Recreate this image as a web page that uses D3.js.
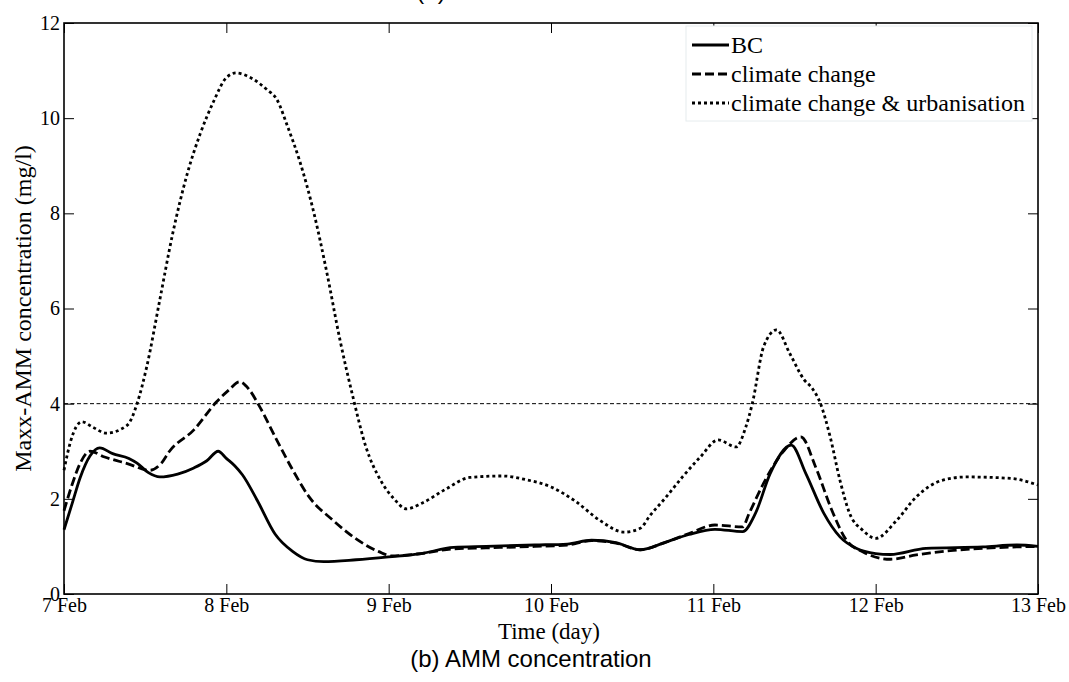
<!DOCTYPE html>
<html>
<head>
<meta charset="utf-8">
<script src="https://cdn.jsdelivr.net/npm/d3@7"></script>
<style>
  html, body { margin: 0; padding: 0; background: #fff; }
  svg { display: block; }
</style>
</head>
<body>
<svg id="chart" width="1069" height="682"></svg>
<script>
// ---- Data (x = days after 7 Feb) ----
const dayTickLabels = ["7 Feb", "8 Feb", "9 Feb", "10 Feb", "11 Feb", "12 Feb", "13 Feb"];
const yTickValues = [0, 2, 4, 6, 8, 10, 12];
const threshold = 4;

const bcDays = [0, 0.05, 0.1, 0.16, 0.22, 0.3, 0.4, 0.45, 0.52, 0.59, 0.7, 0.8, 0.88, 0.95, 1.0, 1.05, 1.1, 1.19, 1.3, 1.41, 1.5, 1.6, 1.8, 2.0, 2.2, 2.4, 2.6, 2.9, 3.1, 3.25, 3.4, 3.55, 3.7, 3.85, 4.01, 4.18, 4.26, 4.35, 4.48, 4.57, 4.68, 4.78, 4.88, 5.0, 5.09, 5.31, 5.66, 5.87, 6.0];
const bcVals = [1.35, 1.9, 2.45, 2.9, 3.07, 2.95, 2.85, 2.75, 2.55, 2.46, 2.52, 2.65, 2.8, 3.0, 2.85, 2.7, 2.5, 1.97, 1.26, 0.89, 0.72, 0.68, 0.72, 0.78, 0.85, 0.98, 1.0, 1.03, 1.05, 1.13, 1.08, 0.93, 1.08, 1.25, 1.36, 1.31, 1.7, 2.53, 3.13, 2.53, 1.7, 1.2, 0.96, 0.85, 0.83, 0.96, 0.99, 1.03, 1.0];

const ccDays = [0, 0.05, 0.1, 0.16, 0.25, 0.39, 0.53, 0.6, 0.65, 0.8, 0.94, 1.02, 1.08, 1.14, 1.2, 1.31, 1.41, 1.51, 1.66, 1.79, 1.94, 2.02, 2.2, 2.4, 2.6, 2.9, 3.1, 3.25, 3.4, 3.55, 3.7, 3.85, 4.01, 4.18, 4.22, 4.31, 4.43, 4.54, 4.63, 4.73, 4.82, 4.92, 5.09, 5.25, 5.46, 5.87, 6.0];
const ccVals = [1.75, 2.3, 2.75, 3.0, 2.88, 2.74, 2.6, 2.75, 3.0, 3.45, 4.04, 4.3, 4.46, 4.3, 3.97, 3.24, 2.6, 2.04, 1.54, 1.18, 0.89, 0.8, 0.85, 0.95, 0.97, 1.0, 1.03, 1.12, 1.07, 0.93, 1.08, 1.27, 1.45, 1.41, 1.69, 2.33, 2.99, 3.3, 2.67, 1.76, 1.13, 0.89, 0.73, 0.82, 0.91, 0.99, 1.0];

const ccuDays = [0, 0.04, 0.11, 0.18, 0.26, 0.39, 0.45, 0.51, 0.59, 0.67, 0.76, 0.84, 0.92, 1.0, 1.06, 1.15, 1.25, 1.31, 1.38, 1.45, 1.54, 1.62, 1.7, 1.78, 1.86, 1.95, 2.03, 2.11, 2.2, 2.35, 2.5, 2.7, 2.85, 3.0, 3.15, 3.3, 3.45, 3.55, 3.61, 3.7, 3.81, 3.92, 4.03, 4.14, 4.2, 4.24, 4.31, 4.39, 4.47, 4.56, 4.61, 4.66, 4.72, 4.78, 4.84, 4.92, 5.0, 5.13, 5.25, 5.41, 5.56, 5.83, 6.0];
const ccuVals = [2.6, 3.2, 3.62, 3.5, 3.38, 3.55, 4.0, 4.78, 6.18, 7.58, 8.84, 9.68, 10.34, 10.85, 10.95, 10.85, 10.6, 10.4, 9.8, 9.12, 8.0, 6.74, 5.34, 4.14, 3.09, 2.39, 2.01, 1.79, 1.9, 2.2, 2.45, 2.48, 2.4, 2.25, 1.95, 1.55, 1.3, 1.38, 1.65, 2.0, 2.46, 2.88, 3.24, 3.09, 3.51, 4.0, 5.2, 5.55, 5.06, 4.5, 4.32, 4.0, 3.3, 2.39, 1.69, 1.34, 1.17, 1.55, 2.04, 2.39, 2.46, 2.43, 2.29];

const seriesNames = ["BC", "climate change", "climate change & urbanisation"];

// ---- Layout ----
const svg = d3.select("#chart");
const pL = 64, pR = 1038, pT = 23, pB = 594;
const serif = "'Liberation Serif', 'Times New Roman', serif";

const x = d3.scaleLinear().domain([0, 6]).range([pL, pR]);
const y = d3.scaleLinear().domain([0, 12]).range([pB, pT]);

// Threshold line
svg.append("line")
  .attr("x1", x(0)).attr("x2", x(6))
  .attr("y1", y(threshold)).attr("y2", y(threshold))
  .attr("stroke", "#000").attr("stroke-width", 1)
  .attr("stroke-dasharray", "4,2.5");

// Series
const line = d3.line().x(d => x(d[0])).y(d => y(d[1])).curve(d3.curveMonotoneX);
const series = [
  { name: seriesNames[0], pts: d3.zip(bcDays, bcVals), dash: null, w: 2.8 },
  { name: seriesNames[1], pts: d3.zip(ccDays, ccVals), dash: "9,4", w: 2.8 },
  { name: seriesNames[2], pts: d3.zip(ccuDays, ccuVals), dash: "3,3", w: 2.8 }
];
series.forEach(s => {
  svg.append("path")
    .datum(s.pts)
    .attr("d", line)
    .attr("fill", "none")
    .attr("stroke", "#000")
    .attr("stroke-width", s.w)
    .attr("stroke-dasharray", s.dash);
});

// Axes
function styleAxis(g) {
  g.select(".domain").remove();
  g.selectAll(".tick line").attr("stroke", "#000").attr("stroke-width", 1);
  g.selectAll("text").attr("font-family", serif).attr("font-size", 20).attr("fill", "#000");
}
svg.append("g").attr("transform", `translate(0,${pB})`)
  .call(d3.axisBottom(x).tickValues(d3.range(7)).tickFormat(i => dayTickLabels[i]).tickSize(-10).tickPadding(4))
  .call(styleAxis)
  .call(g => g.selectAll("text").attr("dy", "0.71em"));
svg.append("g").attr("transform", `translate(0,${pT})`)
  .call(d3.axisTop(x).tickValues(d3.range(7)).tickFormat("").tickSize(-10))
  .call(styleAxis);
svg.append("g").attr("transform", `translate(${pL},0)`)
  .call(d3.axisLeft(y).tickValues(yTickValues).tickSize(-10).tickPadding(4))
  .call(styleAxis);
svg.append("g").attr("transform", `translate(${pR},0)`)
  .call(d3.axisRight(y).tickValues(yTickValues).tickFormat("").tickSize(-10))
  .call(styleAxis);

// Box
svg.append("rect")
  .attr("x", pL).attr("y", pT)
  .attr("width", pR - pL).attr("height", pB - pT)
  .attr("fill", "none").attr("stroke", "#000").attr("stroke-width", 1.6);

// Legend
const lg = svg.append("g");
lg.append("rect").attr("x", 686).attr("y", 26).attr("width", 346).attr("height", 95)
  .attr("fill", "#fff").attr("stroke", "#e6ecee").attr("stroke-width", 1);
series.forEach((s, i) => {
  const yy = 45 + i * 29;
  lg.append("line").attr("x1", 692).attr("x2", 729).attr("y1", yy).attr("y2", yy)
    .attr("stroke", "#000").attr("stroke-width", 3).attr("stroke-dasharray", s.dash);
  lg.append("text").attr("x", 731).attr("y", yy).attr("dy", "0.33em")
    .attr("font-family", serif).attr("font-size", 24).text(s.name);
});

// Axis labels
svg.append("text").attr("x", (pL + pR) / 2 - 2).attr("y", 639)
  .attr("text-anchor", "middle").attr("font-family", serif).attr("font-size", 23)
  .text("Time (day)");
svg.append("text").attr("transform", `translate(31,${(pT + pB) / 2}) rotate(-90)`)
  .attr("text-anchor", "middle").attr("font-family", serif).attr("font-size", 24)
  .text("Maxx-AMM concentration (mg/l)");

// Captions
svg.append("text").attr("x", 531).attr("y", 667)
  .attr("text-anchor", "middle").attr("font-family", "'Liberation Sans', Arial, sans-serif").attr("font-size", 24)
  .text("(b) AMM concentration");
svg.append("text").attr("x", 431).attr("y", -1)
  .attr("text-anchor", "middle").attr("font-family", "'Liberation Sans', Arial, sans-serif").attr("font-size", 24)
  .text("(a)");
</script>
</body>
</html>
